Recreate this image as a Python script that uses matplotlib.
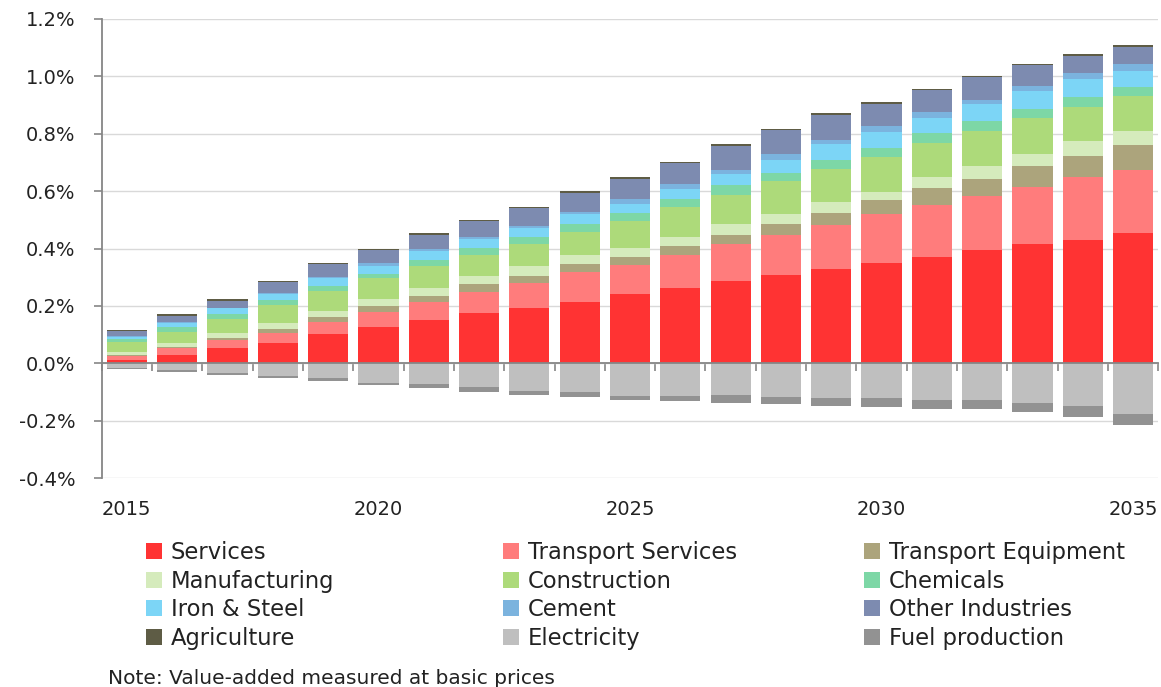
import numpy as np
import matplotlib
matplotlib.use("Agg")
import matplotlib.pyplot as plt
from matplotlib.patches import Patch
from matplotlib.ticker import FuncFormatter

# ---------------------------------------------------------------------------
# data (percentage points of value-added)
# ---------------------------------------------------------------------------
years = list(range(2015, 2036))

services = [0.013, 0.030, 0.052, 0.072, 0.101, 0.128, 0.150, 0.176, 0.194, 0.214, 0.241,
            0.264, 0.285, 0.307, 0.328, 0.350, 0.372, 0.394, 0.415, 0.431, 0.453]
transport_services = [0.013, 0.023, 0.029, 0.033, 0.043, 0.049, 0.064, 0.072, 0.085, 0.103, 0.103,
                      0.113, 0.130, 0.141, 0.153, 0.169, 0.178, 0.189, 0.201, 0.218, 0.222]
transport_equipment = [0.004, 0.003, 0.007, 0.016, 0.017, 0.021, 0.022, 0.027, 0.026, 0.028, 0.027,
                       0.033, 0.032, 0.037, 0.042, 0.049, 0.060, 0.060, 0.070, 0.075, 0.087]
manufacturing = [0.010, 0.016, 0.017, 0.021, 0.021, 0.026, 0.026, 0.030, 0.033, 0.031, 0.032,
                 0.030, 0.037, 0.037, 0.038, 0.030, 0.038, 0.043, 0.043, 0.049, 0.049]
construction = [0.035, 0.038, 0.049, 0.060, 0.070, 0.072, 0.077, 0.071, 0.077, 0.081, 0.093,
                0.105, 0.104, 0.115, 0.116, 0.120, 0.120, 0.125, 0.125, 0.119, 0.119]
chemicals = [0.009, 0.017, 0.016, 0.018, 0.017, 0.015, 0.020, 0.027, 0.026, 0.028, 0.027,
             0.027, 0.033, 0.027, 0.031, 0.033, 0.033, 0.032, 0.032, 0.037, 0.033]
iron_steel = [0.008, 0.013, 0.021, 0.023, 0.027, 0.029, 0.032, 0.029, 0.029, 0.034, 0.033,
              0.034, 0.038, 0.044, 0.055, 0.055, 0.054, 0.062, 0.062, 0.062, 0.054]
cement = [0.004, 0.004, 0.003, 0.003, 0.005, 0.010, 0.006, 0.008, 0.008, 0.009, 0.016,
          0.019, 0.016, 0.022, 0.014, 0.020, 0.021, 0.014, 0.020, 0.021, 0.027]
other_industries = [0.015, 0.021, 0.024, 0.037, 0.044, 0.044, 0.051, 0.056, 0.062, 0.066, 0.071,
                    0.072, 0.084, 0.082, 0.089, 0.078, 0.076, 0.079, 0.071, 0.060, 0.060]
agriculture = [0.005, 0.005, 0.005, 0.005, 0.005, 0.005, 0.005, 0.005, 0.005, 0.005, 0.005,
               0.005, 0.005, 0.005, 0.005, 0.005, 0.005, 0.005, 0.005, 0.005, 0.005]
electricity = [-0.015, -0.022, -0.034, -0.046, -0.053, -0.068, -0.074, -0.084, -0.096, -0.101, -0.113,
               -0.113, -0.111, -0.117, -0.122, -0.122, -0.127, -0.127, -0.139, -0.150, -0.177]
fuel_production = [-0.005, -0.008, -0.006, -0.005, -0.008, -0.009, -0.014, -0.015, -0.015, -0.016, -0.014,
                   -0.020, -0.026, -0.025, -0.026, -0.032, -0.031, -0.032, -0.030, -0.036, -0.037]

positive = [
    ("Services", services, "#FF3333"),
    ("Transport Services", transport_services, "#FF7C7C"),
    ("Transport Equipment", transport_equipment, "#ACA47C"),
    ("Manufacturing", manufacturing, "#D5EBBC"),
    ("Construction", construction, "#ADDA7A"),
    ("Chemicals", chemicals, "#7DD7A6"),
    ("Iron & Steel", iron_steel, "#7CD5F6"),
    ("Cement", cement, "#7BB3DE"),
    ("Other Industries", other_industries, "#7D8BB0"),
    ("Agriculture", agriculture, "#5E5C45"),
]
negative = [
    ("Electricity", electricity, "#BFBFBF"),
    ("Fuel production", fuel_production, "#929292"),
]

# ---------------------------------------------------------------------------
W, H = 1161, 687
fig = plt.figure(figsize=(W / 100, H / 100), dpi=100)
ax = fig.add_axes([101.7 / W, 1 - 478 / H, (1158.3 - 101.7) / W, (478 - 19) / H])

x = np.arange(len(years))
axis_gray = "#868686"

bottom = np.zeros(len(years))
for name, vals, col in positive:
    ax.bar(x, vals, width=0.8, bottom=bottom, color=col, linewidth=0)
    bottom += np.array(vals)

bottom = np.zeros(len(years))
for name, vals, col in negative:
    ax.bar(x, vals, width=0.8, bottom=bottom, color=col, linewidth=0)
    bottom += np.array(vals)

ax.set_xlim(-0.5, len(years) - 0.5)
ax.set_ylim(-0.4, 1.2)
ax.set_yticks(np.arange(-0.4, 1.21, 0.2))
ax.yaxis.set_major_formatter(FuncFormatter(lambda v, p: f"{v:.1f}%"))
ax.grid(axis="y", color="#D9D9D9", linewidth=1)
ax.set_axisbelow(True)

for s in ("top", "right"):
    ax.spines[s].set_visible(False)
ax.spines["left"].set_color(axis_gray)
ax.spines["left"].set_linewidth(1.3)
ax.spines["bottom"].set_position(("data", 0))
ax.spines["bottom"].set_color(axis_gray)
ax.spines["bottom"].set_linewidth(1.3)

# category boundary ticks on the zero line
ax.set_xticks(np.arange(-0.5, len(years), 1.0))
ax.tick_params(axis="x", length=6, width=1.2, color=axis_gray, labelbottom=False)
ax.tick_params(axis="y", length=6, width=1.2, color=axis_gray, pad=13,
               labelsize=14, labelcolor="#222222")

# year labels at the bottom of the plot area
sec = ax.secondary_xaxis("bottom")
label_years = [y for y in years if y % 5 == 0]
sec.set_xticks([years.index(y) for y in label_years])
sec.set_xticklabels([str(y) for y in label_years])
sec.tick_params(length=0, pad=16, labelsize=14, labelcolor="#222222")
sec.spines["bottom"].set_visible(False)

# legend: three fixed columns, filled row by row
items = positive + negative
handles = [Patch(facecolor=c, edgecolor="none") for _, _, c in items]
labels = [n for n, _, _ in items]
col_x = [146, 503, 864]
for i, cx in enumerate(col_x):
    leg = fig.legend(handles[i::3], labels[i::3], loc="upper left",
                     bbox_to_anchor=(cx / W, 1 - 541 / H), frameon=False,
                     fontsize=16.3, borderpad=0, borderaxespad=0,
                     handlelength=0.7, handleheight=0.7, handletextpad=0.4,
                     labelspacing=0.25)
    for t in leg.get_texts():
        t.set_color("#222222")

fig.text(108 / W, 1 - 678 / H, "Note: Value-added measured at basic prices",
         fontsize=14.5, va="center", ha="left", color="#222222")

fig.savefig("out.png", dpi=100)
